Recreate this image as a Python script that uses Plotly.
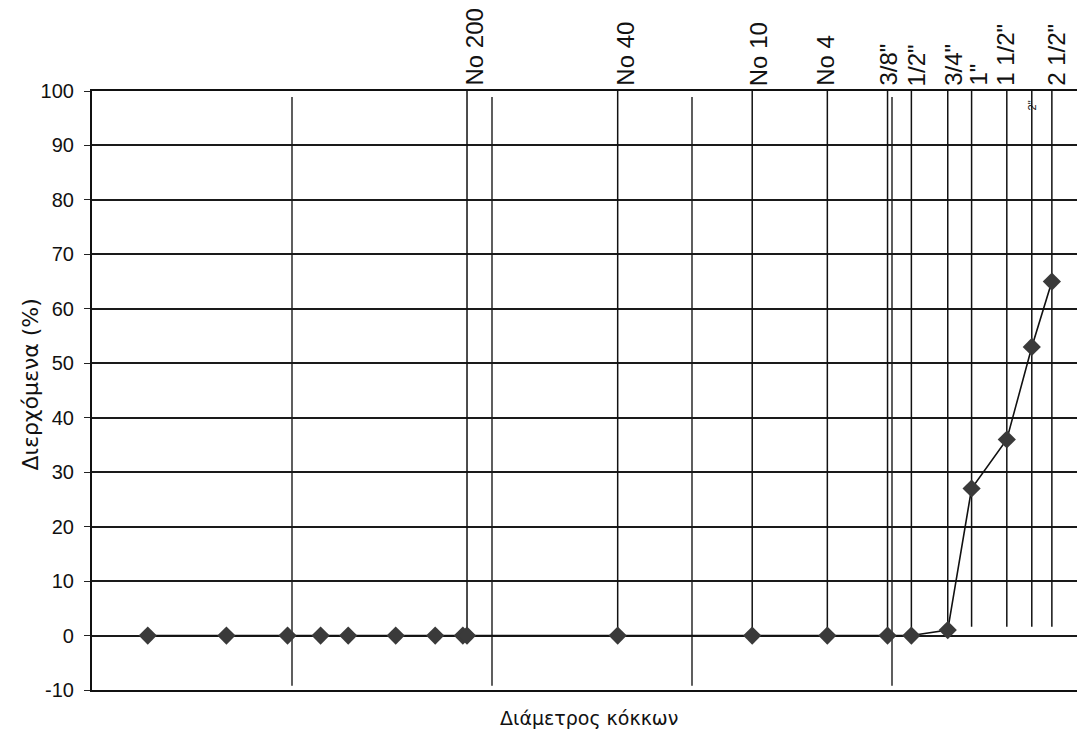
import numpy as np
import plotly.graph_objects as go

# ---------------- data ----------------
diameter_mm = [0.0019, 0.0047, 0.0095, 0.0139, 0.0191, 0.033, 0.052, 0.0715, 0.075,
               0.425, 2.0, 4.75, 9.5, 12.5, 19.0, 25.0, 37.5, 50.0, 63.0]
passing_pct = [0, 0, 0, 0, 0, 0, 0, 0, 0,
               0, 0, 0, 0, 0, 1, 27, 36, 53, 65]

sieve_labels = ['No 200', 'No 40', 'No 10', 'No 4', '3/8"', '1/2"', '3/4"', '1"', '1 1/2"', '2"', '2 1/2"']
sieve_sizes = [0.075, 0.425, 2.0, 4.75, 9.5, 12.5, 19.0, 25.0, 37.5, 50.0, 63.0]
sieve_line_bottom = [0, 0, 0, 0, 0, 0, 1, 1.6, 1.6, 1.6, 1.6]

decade_lines = [0.01, 0.1, 1, 10]

y_ticks = [-10, 0, 10, 20, 30, 40, 50, 60, 70, 80, 90, 100]
y_tick_labels = ['-10', '0', '10', '20', '30', '40', '50', '60', '70', '80', '90', '100']

# label x offsets (px, styling only)
label_shift = {'No 200': 7, 'No 40': 7, 'No 10': 6, 'No 4': -2, '3/8"': 0, '1/2"': 5,
               '3/4"': 5, '1"': 6, '1 1/2"': -2, '2 1/2"': 4}

fig = go.Figure()

# decade vertical grid lines
dx, dy = [], []
for d in decade_lines:
    dx += [d, d, None]
    dy += [-9.2, 98.9, None]
fig.add_trace(go.Scatter(x=dx, y=dy, mode='lines', line=dict(color='#1a1a1a', width=1.4),
                         hoverinfo='skip', showlegend=False))

# sieve vertical lines
sx, sy = [], []
for s, b in zip(sieve_sizes, sieve_line_bottom):
    sx += [s, s, None]
    sy += [b, 100, None]
fig.add_trace(go.Scatter(x=sx, y=sy, mode='lines', line=dict(color='#111', width=1.5),
                         hoverinfo='skip', showlegend=False))

# gradation curve
fig.add_trace(go.Scatter(x=diameter_mm, y=passing_pct, mode='lines+markers',
                         line=dict(color='#111', width=1.6),
                         marker=dict(symbol='diamond', size=14, color='#3a3a3a',
                                     line=dict(width=0)),
                         showlegend=False))

annotations = []
for lab, s in zip(sieve_labels, sieve_sizes):
    if lab == '2"':
        annotations.append(dict(x=np.log10(s), y=97.3, xref='x', yref='y', text=lab,
                                textangle=-90, showarrow=False,
                                font=dict(family='Liberation Sans, Arial', size=11, color='#111'),
                                xanchor='center', yanchor='middle'))
        continue
    annotations.append(dict(x=np.log10(s), y=1, xref='x', yref='paper', text=lab,
                            textangle=-90, showarrow=False, yshift=3,
                            xshift=label_shift.get(lab, 0),
                            font=dict(family='Liberation Sans, Arial', size=24, color='#111'),
                            xanchor='center', yanchor='bottom'))

annotations.append(dict(x=0, y=0.5, xref='paper', yref='paper', text='Διερχόμενα (%)',
                        textangle=-90, showarrow=False, xshift=-62, yshift=6,
                        font=dict(family='DejaVu Sans', size=22, color='#111'),
                        xanchor='center', yanchor='middle'))
annotations.append(dict(x=0.5, y=0, xref='paper', yref='paper', text='Διάμετρος κόκκων',
                        showarrow=False, yshift=-28,
                        font=dict(family='DejaVu Sans', size=19, color='#111'),
                        xanchor='center', yanchor='middle'))

fig.update_layout(
    width=1085, height=736,
    margin=dict(l=84, r=8, t=83, b=54, autoexpand=False),
    paper_bgcolor='white', plot_bgcolor='white',
    xaxis=dict(type='log', range=[-3, 1.965], showgrid=False, showticklabels=False,
               ticks='', showline=True, mirror=True, linecolor='#111', linewidth=2.2,
               zeroline=False),
    yaxis=dict(range=[-10, 100], tickvals=y_ticks, ticktext=y_tick_labels,
               showgrid=True, gridcolor='#1a1a1a',
               gridwidth=1.6, ticks='outside', ticklen=6, tickcolor='#222',
               ticklabelstandoff=6,
               tickfont=dict(family='Liberation Sans, Arial', size=20, color='#111'),
               showline=True, linecolor='#111', linewidth=2.2, zeroline=False),
    annotations=annotations,
)

fig.write_html('out.html')
